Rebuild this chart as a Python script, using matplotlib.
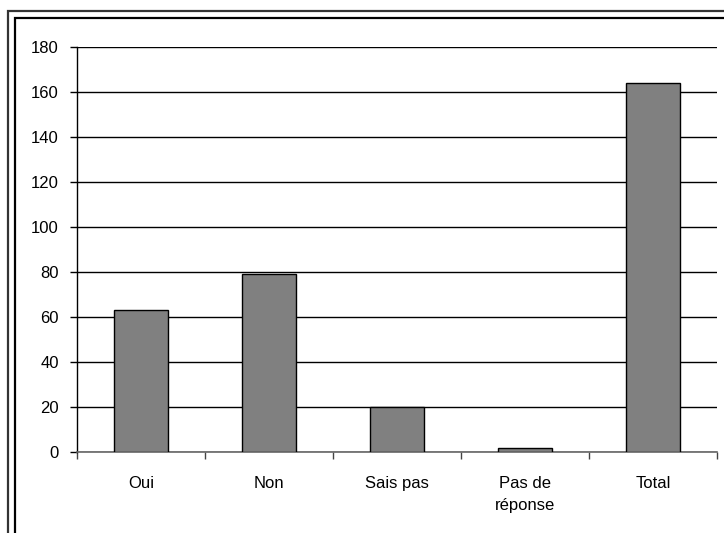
import matplotlib
matplotlib.use("Agg")
import matplotlib.pyplot as plt
from matplotlib.patches import Rectangle

categories = ["Oui", "Non", "Sais pas", "Pas de\nréponse", "Total"]
values = [63, 79, 20, 2, 164]
yticks = [0, 20, 40, 60, 80, 100, 120, 140, 160, 180]

plt.rcParams['font.family'] = ['Liberation Sans', 'DejaVu Sans']

fig = plt.figure(figsize=(7.24, 5.33), dpi=100)
W, H = 724, 533

# double border (goes off the right/bottom edges)
fig.patches.append(Rectangle((8 / W, -0.05), 1.1, 1 - 11 / H + 0.05, transform=fig.transFigure,
                             fill=False, edgecolor="#333333", linewidth=1.6))
fig.patches.append(Rectangle((15 / W, -0.05), 1.1, 1 - 18 / H + 0.05, transform=fig.transFigure,
                             fill=False, edgecolor="black", linewidth=1.6))

ax = fig.add_axes([77 / W, 1 - 452 / H, (717 - 77) / W, (452 - 47) / H])
x = list(range(len(categories)))
ax.bar(x, values, width=0.42, color="#808080", edgecolor="black", linewidth=1.0, zorder=3)

ax.set_xlim(-0.5, len(categories) - 0.5)
ax.set_ylim(0, 180)
ax.set_yticks(yticks)
ax.set_yticklabels([str(v) for v in yticks], fontsize=12)
ax.yaxis.grid(True, color="black", linewidth=1.0, zorder=0)
ax.set_axisbelow(True)

ax.set_xticks(x)
ax.set_xticklabels(categories, fontsize=12, linespacing=1.65)
ax.tick_params(axis='x', length=0, pad=17)
ax.set_xticks([i - 0.5 for i in range(len(categories) + 1)], minor=True)
ax.tick_params(axis='x', which='minor', length=5, width=1, direction='out', color="#444444")
ax.tick_params(axis='y', length=5, width=1, direction='out', pad=8)

for s in ["top", "right"]:
    ax.spines[s].set_visible(False)
ax.spines["left"].set_linewidth(1.0)
ax.spines["bottom"].set_color("#666666")
ax.spines["bottom"].set_linewidth(1.2)

fig.savefig("out.png", dpi=100)
